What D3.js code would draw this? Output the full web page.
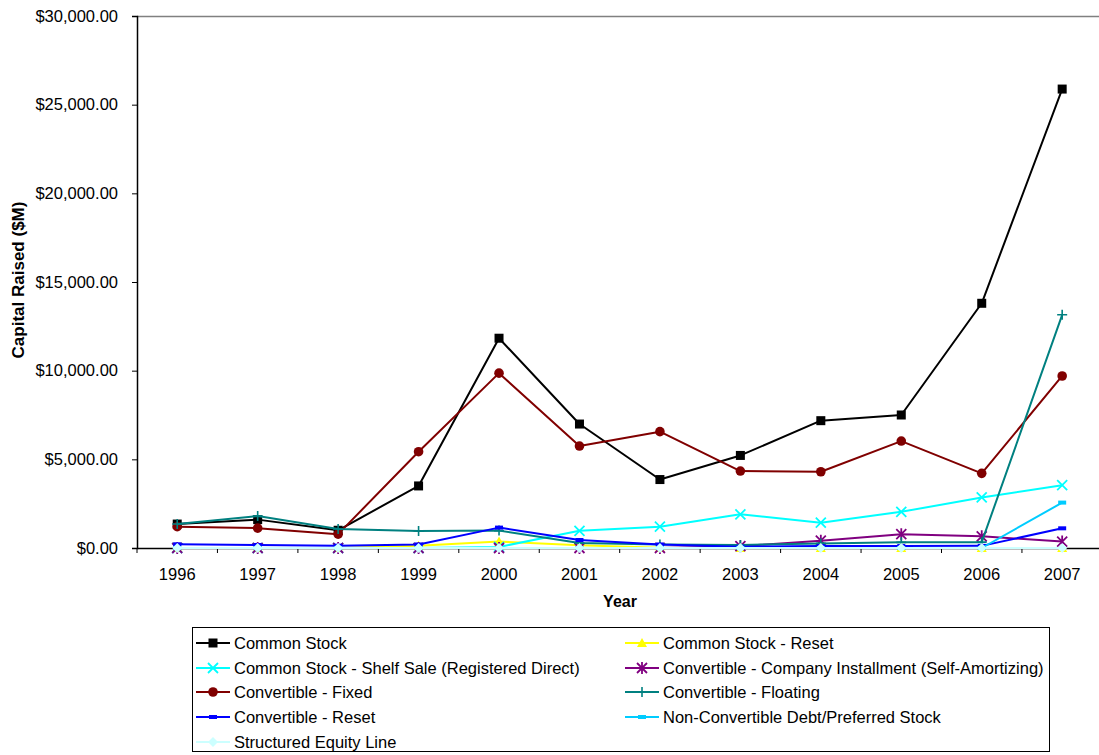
<!DOCTYPE html>
<html>
<head>
<meta charset="utf-8">
<script src="https://cdn.jsdelivr.net/npm/d3@7"></script>
<style>
  html, body { margin: 0; padding: 0; background: #fff; }
  svg { display: block; font-family: "Liberation Sans", Arial, sans-serif; }
</style>
</head>
<body>
<svg id="chart" width="1099" height="755"></svg>
<script>
// Capital raised by instrument type, in $M
const years = ["1996","1997","1998","1999","2000","2001","2002","2003","2004","2005","2006","2007"];
const commonStock      = [1350, 1600, 1000, 3500, 11830, 6990, 3860, 5220, 7180, 7500, 13800, 25880];
const commonStockReset = [0, 0, 0, 120, 360, 150, 20, 0, 0, 0, 0, 0];
const shelfSale        = [0, 0, 0, 0, 60, 970, 1200, 1900, 1430, 2040, 2850, 3540];
const installment      = [0, 0, 0, 0, 0, 0, 0, 100, 410, 780, 660, 360];
const convFixed        = [1200, 1120, 780, 5430, 9860, 5750, 6560, 4340, 4300, 6030, 4210, 9700];
const convFloating     = [1350, 1800, 1070, 960, 980, 280, 200, 170, 260, 320, 330, 13150];
const convReset        = [210, 170, 130, 200, 1150, 450, 200, 70, 110, 110, 120, 1110];
const nonConvertible   = [0, 0, 0, 0, 0, 0, 0, 0, 0, 0, 0, 2560];
const structuredEquity = [0, 0, 0, 0, 0, 0, 0, 0, 0, 0, 0, 0];
const yTicks = [0, 5000, 10000, 15000, 20000, 25000, 30000];

const series = [
  { name: "Common Stock", values: commonStock, color: "#000000", marker: "square" },
  { name: "Common Stock - Reset", values: commonStockReset, color: "#FFFF00", marker: "triangle" },
  { name: "Common Stock - Shelf Sale (Registered Direct)", values: shelfSale, color: "#00FFFF", marker: "x" },
  { name: "Convertible - Company Installment (Self-Amortizing)", values: installment, color: "#800080", marker: "star" },
  { name: "Convertible - Fixed", values: convFixed, color: "#800000", marker: "circle" },
  { name: "Convertible - Floating", values: convFloating, color: "#008080", marker: "plus" },
  { name: "Convertible - Reset", values: convReset, color: "#0000FF", marker: "dash" },
  { name: "Non-Convertible Debt/Preferred Stock", values: nonConvertible, color: "#00CCFF", marker: "dash" },
  { name: "Structured Equity Line", values: structuredEquity, color: "#CCFFFF", marker: "diamond" }
];

const svg = d3.select("#chart");
const plot = { left: 137, top: 16, right: 1102.4, bottom: 548 };

const x = d3.scaleBand().domain(years).range([plot.left, plot.right]).padding(0);
const y = d3.scaleLinear().domain([0, 30000]).range([plot.bottom, plot.top]);
const cx = d => x(d) + x.bandwidth() / 2;

// plot area top border
svg.append("line")
  .attr("x1", plot.left).attr("x2", plot.right)
  .attr("y1", plot.top + 0.5).attr("y2", plot.top + 0.5)
  .attr("stroke", "#808080").attr("stroke-width", 1.5);

// y axis
const fmt = v => "$" + d3.format(",.2f")(v);
const yAxis = svg.append("g")
  .attr("transform", `translate(${plot.left},0)`)
  .call(d3.axisLeft(y).tickValues(yTicks).tickFormat(fmt).tickSize(5).tickPadding(14));
yAxis.select(".domain").attr("stroke", "#000").attr("stroke-width", 1.5);
yAxis.selectAll(".tick line").attr("stroke", "#000");
yAxis.selectAll("text").attr("font-size", 16.5).attr("fill", "#000")
  .attr("font-family", "Liberation Sans, Arial, sans-serif");

// x axis: ticks between categories
const xAxis = svg.append("g")
  .attr("transform", `translate(0,${plot.bottom})`)
  .call(d3.axisBottom(x).tickSize(0).tickPadding(20));
xAxis.select(".domain").attr("stroke", "#000").attr("stroke-width", 1.5);
xAxis.selectAll("text").attr("font-size", 16.5).attr("fill", "#000")
  .attr("font-family", "Liberation Sans, Arial, sans-serif");
xAxis.selectAll(".sep")
  .data(years.concat(["end"]))
  .enter().append("line")
  .attr("class", "sep")
  .attr("x1", (d, i) => plot.left + i * x.bandwidth())
  .attr("x2", (d, i) => plot.left + i * x.bandwidth())
  .attr("y1", 0).attr("y2", 5)
  .attr("stroke", "#000");

// axis titles
svg.append("text")
  .attr("x", 620).attr("y", 607)
  .attr("text-anchor", "middle")
  .attr("font-size", 16).attr("font-weight", "bold")
  .text("Year");
svg.append("text")
  .attr("transform", "translate(24,280) rotate(-90)")
  .attr("text-anchor", "middle")
  .attr("font-size", 17).attr("font-weight", "bold")
  .text("Capital Raised ($M)");

// marker drawing
function drawMarker(g, type, color) {
  switch (type) {
    case "square":
      g.append("rect").attr("x", -4.5).attr("y", -4.5).attr("width", 9).attr("height", 9).attr("fill", color);
      break;
    case "triangle":
      g.append("path").attr("d", "M0,-5L5,4L-5,4Z").attr("fill", color);
      break;
    case "x":
      g.append("path").attr("d", "M-5,-5L5,5M-5,5L5,-5").attr("stroke", color).attr("stroke-width", 1.8);
      break;
    case "star":
      g.append("path").attr("d", "M-5,-5L5,5M-5,5L5,-5M0,-6L0,6").attr("stroke", color).attr("stroke-width", 1.8);
      break;
    case "circle":
      g.append("circle").attr("r", 4.8).attr("fill", color);
      break;
    case "plus":
      g.append("path").attr("d", "M-5,0L5,0M0,-5L0,5").attr("stroke", color).attr("stroke-width", 1.6);
      break;
    case "dash":
      g.append("rect").attr("x", -4).attr("y", -2).attr("width", 8).attr("height", 4).attr("fill", color);
      break;
    case "diamond":
      g.append("path").attr("d", "M0,-5L5,0L0,5L-5,0Z").attr("fill", color);
      break;
  }
}

const line = d3.line().x(d => cx(d.year)).y(d => y(d.value));

series.forEach(s => {
  const pts = years.map((yr, i) => ({ year: yr, value: s.values[i] }));
  const g = svg.append("g").attr("class", "series");
  g.append("path")
    .datum(pts)
    .attr("d", line)
    .attr("fill", "none")
    .attr("stroke", s.color)
    .attr("stroke-width", 2)
    .attr("stroke-linejoin", "round");
  g.selectAll(".m")
    .data(pts)
    .enter().append("g")
    .attr("class", "m")
    .attr("transform", d => `translate(${cx(d.year)},${y(d.value)})`)
    .each(function () { drawMarker(d3.select(this), s.marker, s.color); });
});

// legend
const legend = svg.append("g");
legend.append("rect")
  .attr("x", 192.5).attr("y", 627.5).attr("width", 857).attr("height", 124)
  .attr("fill", "#fff").attr("stroke", "#000").attr("stroke-width", 1);

const rowY = [643, 668, 692, 717, 742];
const colX = [196, 625];
series.forEach((s, i) => {
  const col = i % 2, row = Math.floor(i / 2);
  const lx = colX[col], ly = rowY[row];
  const g = legend.append("g");
  g.append("line")
    .attr("x1", lx).attr("x2", lx + 34)
    .attr("y1", ly).attr("y2", ly)
    .attr("stroke", s.color).attr("stroke-width", 2);
  const m = g.append("g").attr("transform", `translate(${lx + 17},${ly})`);
  drawMarker(m, s.marker, s.color);
  g.append("text")
    .attr("x", lx + 38).attr("y", ly + 5.5)
    .attr("font-size", 16.5)
    .text(s.name);
});
</script>
</body>
</html>
